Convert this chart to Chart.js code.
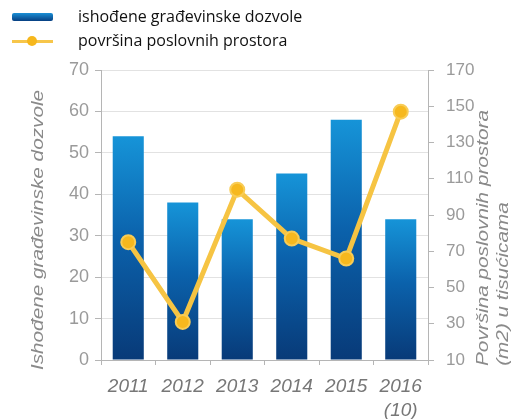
<!DOCTYPE html>
<html>
<head>
<meta charset="utf-8">
<script src="https://cdn.jsdelivr.net/npm/chart.js@4"></script>
<style>
  html, body { margin: 0; padding: 0; background: #fff; }
  #wrap { position: relative; width: 531px; height: 419px; }
  canvas { position: absolute; left: 0; top: 0; }
  .leg { position: absolute; left: 78px; font-family: "Open Sans", sans-serif; font-size: 16px; color: #111; }
  .sw1 { position: absolute; left: 12px; top: 13px; width: 41px; height: 8px; border-radius: 2px;
         background: linear-gradient(#1a8fd6, #073f82); }
  .sw2 { position: absolute; left: 12px; top: 40px; width: 41px; height: 3px; background: #f7c64a; }
  .sw2dot { position: absolute; left: 27px; top: 36px; width: 10px; height: 10px; border-radius: 50%; background: #f6b71c; }
</style>
</head>
<body>
<div id="wrap">
  <canvas id="c" width="531" height="419"></canvas>
  <div class="sw1"></div>
  <div class="sw2"></div><div class="sw2dot"></div>
  <div class="leg" id="leg1" style="top:5px"></div>
  <div class="leg" id="leg2" style="top:29px"></div>
</div>
<script>
const categories = ['2011', '2012', '2013', '2014', '2015', ['2016', '(10)']];
const permits = [54, 38, 34, 45, 58, 34];
const area = [75, 31, 104, 77, 66, 147];
const seriesNames = ['ishođene građevinske dozvole', 'površina poslovnih prostora'];
const leftTitle = 'Ishođene građevinske dozvole';
const rightTitle = ['Površina poslovnih prostora', '(m2) u tisućicama'];

document.getElementById('leg1').textContent = seriesNames[0];
document.getElementById('leg2').textContent = seriesNames[1];

function barGradient(ctx) {
  const chart = ctx.chart;
  if (!chart.chartArea || ctx.type !== 'data') return '#0a5ca6';
  const ys = chart.scales.y;
  const top = ys.getPixelForValue(ctx.raw);
  const bottom = ys.getPixelForValue(0);
  const g = chart.ctx.createLinearGradient(0, top, 0, bottom);
  g.addColorStop(0, '#1694d8');
  g.addColorStop(0.45, '#0b62ac');
  g.addColorStop(1, '#083a78');
  return g;
}

const titlePlugin = {
  id: 'axisTitles',
  afterDraw(chart) {
    const c = chart.ctx;
    c.save();
    c.fillStyle = '#8a8a8a';
    c.font = 'italic 17px "Liberation Sans", Arial, sans-serif';
    c.textAlign = 'center';
    c.textBaseline = 'middle';
    const items = [
      [leftTitle, 38, 230],
      [rightTitle[0], 483, 238],
      [rightTitle[1], 503, 284]
    ];
    items.forEach(([t, x, y]) => {
      c.save();
      c.translate(x, y);
      c.rotate(-Math.PI / 2);
      c.scale(1.22, 1);
      c.fillText(t, 0, 0);
      c.restore();
    });
    c.restore();
  }
};

const tickFont = { family: '"Liberation Sans", Arial, sans-serif', size: 18 };

new Chart(document.getElementById('c'), {
  data: {
    labels: categories,
    datasets: [
      {
        type: 'line',
        label: seriesNames[1],
        data: area,
        yAxisID: 'y1',
        borderColor: '#f6c443',
        borderWidth: 5,
        pointRadius: 7,
        pointBackgroundColor: '#f6b81e',
        pointBorderColor: '#f8cc55',
        pointBorderWidth: 2,
        tension: 0,
        order: 0
      },
      {
        type: 'bar',
        label: seriesNames[0],
        data: permits,
        yAxisID: 'y',
        backgroundColor: barGradient,
        categoryPercentage: 1,
        barPercentage: 0.57,
        order: 1
      }
    ]
  },
  options: {
    responsive: false,
    animation: false,
    devicePixelRatio: 1,
    layout: { padding: { top: 70, left: 0, right: 0, bottom: 0 } },
    plugins: { legend: { display: false }, tooltip: { enabled: false } },
    scales: {
      x: {
        offset: true,
        grid: { offset: true, drawOnChartArea: false, tickLength: 5, color: '#b5b5b5' },
        border: { color: '#b5b5b5' },
        ticks: { color: '#777', font: { ...tickFont, size: 19, style: 'italic', lineHeight: 1.25 }, padding: 10, maxRotation: 0, autoSkip: false },
        afterFit(s) { s.height = 59; }
      },
      y: {
        position: 'left',
        min: 0, max: 70,
        ticks: { stepSize: 10, color: '#9a9a9a', font: tickFont, padding: 6 },
        grid: { color: '#e2e2e2', tickLength: 6, tickColor: '#b5b5b5' },
        border: { color: '#b5b5b5' },
        afterFit(s) { s.width = 101; }
      },
      y1: {
        position: 'right',
        min: 10, max: 170,
        ticks: { stepSize: 20, color: '#9a9a9a', font: { ...tickFont, size: 17 }, padding: 12 },
        grid: { drawOnChartArea: false, tickLength: 6, color: '#b5b5b5' },
        border: { color: '#b5b5b5' },
        afterFit(s) { s.width = 103; }
      }
    }
  },
  plugins: [titlePlugin]
});
</script>
</body>
</html>
